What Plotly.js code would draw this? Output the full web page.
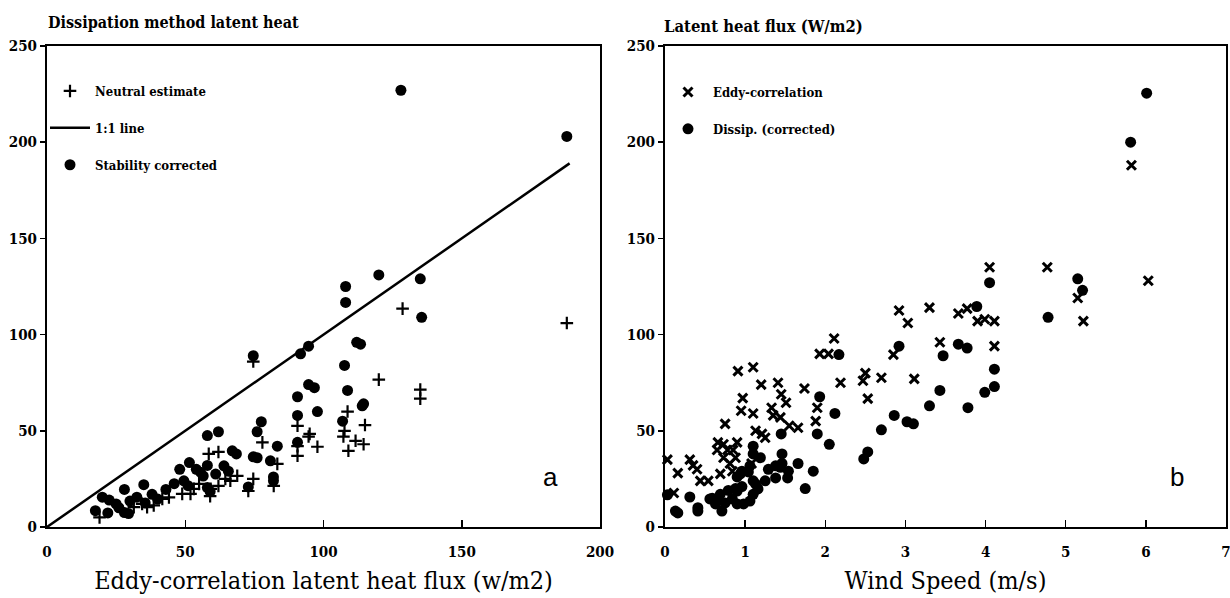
<!DOCTYPE html>
<html>
<head>
<meta charset="utf-8">
<script src="https://cdn.plot.ly/plotly-3.0.1.min.js"></script>
<style>
  html, body { margin: 0; padding: 0; background: #ffffff; }
  #chart { width: 1230px; height: 598px; }
</style>
</head>
<body>
<div id="chart"></div>
<script>
// ---------- Panel a: dissipation vs eddy-correlation latent heat ----------
const neutralX = [19, 31.4, 34.4, 36.2, 38.6, 41.7, 44.1, 48.9, 51.9, 53.1, 55, 59.2, 58.5, 62, 59, 62, 64.5, 66.3, 68.8, 72.8, 74.6, 74.6, 77.9, 82, 83.3, 90.6, 90.6, 90.6, 95, 94.6, 97.8, 107.6, 107.2, 108.7, 109, 111.6, 114.5, 115, 120, 128.6, 135, 135, 188];
const neutralY = [5, 10.3, 12, 10.3, 11.2, 14.6, 15.4, 17.2, 17.2, 19.8, 22.4, 19.8, 38, 39, 16, 21.4, 25, 24, 26.6, 18.7, 25, 86, 44, 21.4, 32.8, 37, 42, 52.6, 48.4, 47, 41.7, 50, 47, 60, 39.6, 44.8, 43, 53, 76.6, 113.5, 71.4, 66.7, 106];

const correctedX = [17.5, 22, 20, 22.5, 25, 26, 28, 29.5, 28, 30, 32.5, 35, 35.5, 38, 40, 43, 46, 48, 49.5, 51, 51.5, 54, 55.5, 58, 62, 58, 56.5, 58, 59, 61, 64, 65.6, 67, 68.5, 74.6, 76, 80.8, 72.8, 81.9, 81.9, 77.5, 76, 74.6, 83.3, 90.6, 90.6, 90.6, 91.7, 94.6, 94.6, 96.7, 97.8, 106.9, 107.6, 108.7, 108, 108, 112, 113.4, 114.5, 114, 120, 128, 135, 135.5, 188];
const correctedY = [8.5, 7.3, 15.5, 14, 12, 10, 7.5, 7, 19.5, 13.5, 15.5, 22, 12.5, 17, 14.5, 19.5, 22.5, 30, 24, 21.5, 33.5, 30, 28.5, 47.5, 49.5, 32, 26.5, 20.5, 18.5, 27.5, 31.8, 29, 39.6, 38, 36.5, 36, 34.4, 20.8, 26, 24, 54.7, 49.5, 89, 42, 44, 58, 67.7, 90, 94, 74, 72.4, 60, 55, 84, 71, 125, 116.7, 96, 95, 64, 63, 131, 227, 129, 109, 203];

const oneToOneX = [0, 189];
const oneToOneY = [0, 189];

// ---------- Panel b: latent heat flux vs wind speed ----------
const eddyX = [0.03, 0.11, 0.16, 0.31, 0.35, 0.40, 0.44, 0.54, 0.69, 0.65, 0.66, 0.73, 0.73, 0.78, 0.81, 0.84, 0.85, 0.88, 0.90, 0.75, 0.91, 0.95, 0.97, 1.08, 1.10, 1.10, 1.13, 1.21, 1.25, 1.20, 1.33, 1.35, 1.41, 1.44, 1.45, 1.51, 1.55, 1.66, 1.74, 1.88, 1.90, 1.93, 2.04, 2.11, 2.19, 2.47, 2.50, 2.53, 2.70, 2.85, 2.92, 3.03, 3.11, 3.30, 3.43, 3.66, 3.77, 3.90, 3.99, 4.05, 4.11, 4.11, 4.77, 5.15, 5.22, 5.82, 6.03];
const eddyY = [35, 17.7, 28, 35, 32, 30, 24, 24, 27.6, 40, 44, 43, 36, 40, 33, 29, 40, 36, 44, 53.6, 81, 60.4, 67, 33, 83, 59, 50, 48.4, 46.4, 74, 62, 58, 75, 57, 69, 64.6, 52.6, 51.6, 72, 55, 62, 90, 90, 98, 75, 76, 80, 66.7, 77.6, 89.6, 112.5, 106, 77, 114, 96, 111, 113.5, 107, 108, 135, 107, 94, 135, 119, 107, 188, 128];

const dissipX = [0.03, 0.13, 0.16, 0.31, 0.41, 0.41, 0.56, 0.59, 0.63, 0.65, 0.69, 0.71, 0.75, 0.79, 0.84, 0.88, 0.90, 0.90, 0.96, 0.98, 0.90, 0.94, 0.96, 1.04, 1.06, 1.06, 1.10, 1.13, 1.16, 1.10, 1.25, 1.10, 1.10, 1.19, 1.29, 1.38, 1.38, 1.44, 1.46, 1.46, 1.45, 1.53, 1.54, 1.66, 1.75, 1.85, 1.90, 1.93, 2.05, 2.12, 2.17, 2.48, 2.53, 2.70, 2.86, 2.92, 3.02, 3.10, 3.30, 3.43, 3.47, 3.66, 3.77, 3.78, 3.89, 3.99, 4.05, 4.11, 4.11, 4.78, 5.15, 5.21, 5.81, 6.01];
const dissipY = [16.7, 8.3, 7.3, 15.6, 10, 8.3, 14.6, 15, 12, 13.5, 17, 8.3, 12.5, 19, 14.6, 20, 12, 18.7, 21, 12, 26, 27.6, 29, 28.6, 31.8, 13.5, 17, 22.4, 19.8, 24, 24, 42, 38, 36, 30, 25.5, 31.8, 31, 38, 33, 48.4, 25.5, 29, 33, 20, 29, 48.4, 67.7, 43, 59, 89.6, 35.4, 39, 50.5, 58, 94, 54.7, 53.6, 63, 71, 89, 95, 93, 62, 114.6, 70, 127, 82, 73, 109, 129, 123, 200, 225.5];

// ---------- Tick labels ----------
const fluxTicks = [0, 50, 100, 150, 200, 250];
const fluxTickText = ['0', '50', '100', '150', '200', '250'];
const eddyTicks = [0, 50, 100, 150, 200];
const eddyTickText = ['0', '50', '100', '150', '200'];
const windTicks = [0, 1, 2, 3, 4, 5, 6, 7];
const windTickText = ['0', '1', '2', '3', '4', '5', '6', '7'];

const SERIF = '"DejaVu Serif Condensed", "DejaVu Serif", "Liberation Serif", serif';
const boldFont = { family: SERIF, size: 15, color: '#000', weight: 700 };

const plusMarker = { symbol: 'cross-thin', size: 9, color: '#000', line: { color: '#000', width: 2.2 } };
const dotMarker = { symbol: 'circle', size: 11, color: '#000', line: { width: 0 } };
const xMarker = { symbol: 'x-thin', size: 9, color: '#000', line: { color: '#000', width: 3 } };

const traces = [
  { type: 'scatter', mode: 'markers', x: neutralX, y: neutralY, name: 'Neutral estimate',
    marker: plusMarker, xaxis: 'x', yaxis: 'y', legend: 'legend', legendgroup: 'a1', cliponaxis: false },
  { type: 'scatter', mode: 'lines', x: oneToOneX, y: oneToOneY, name: '1:1 line',
    line: { color: '#000', width: 2.5 }, xaxis: 'x', yaxis: 'y', legend: 'legend', legendgroup: 'a2' },
  { type: 'scatter', mode: 'markers', x: correctedX, y: correctedY, name: 'Stability corrected',
    marker: dotMarker, xaxis: 'x', yaxis: 'y', legend: 'legend', legendgroup: 'a3', cliponaxis: false },
  { type: 'scatter', mode: 'markers', x: eddyX, y: eddyY, name: 'Eddy-correlation',
    marker: xMarker, xaxis: 'x2', yaxis: 'y2', legend: 'legend2', legendgroup: 'b1', cliponaxis: false },
  { type: 'scatter', mode: 'markers', x: dissipX, y: dissipY, name: 'Dissip. (corrected)',
    marker: dotMarker, xaxis: 'x2', yaxis: 'y2', legend: 'legend2', legendgroup: 'b2', cliponaxis: false }
];

const W = 1230, H = 598;
const yDom = [(H - 527) / H, (H - 46) / H];

function xAxis(domain, range, vals, text, title) {
  return {
    domain: domain, range: range, tickvals: vals, ticktext: text,
    ticks: 'inside', ticklen: 7, tickwidth: 1.5, tickcolor: '#000',
    ticklabelstandoff: 10, ticklabeloverflow: 'allow',
    showline: true, mirror: true, linecolor: '#000', linewidth: 2,
    showgrid: false, zeroline: false, fixedrange: true,
    tickfont: boldFont,
    title: { text: title, font: { family: SERIF, size: 25, color: '#000' }, standoff: 11 }
  };
}
function yAxis(anchor) {
  return {
    domain: yDom, range: [0, 250], tickvals: fluxTicks, ticktext: fluxTickText,
    ticks: 'outside', ticklen: 5, tickwidth: 1.5, tickcolor: '#000',
    showline: true, mirror: true, linecolor: '#000', linewidth: 2,
    showgrid: false, zeroline: false, fixedrange: true, anchor: anchor,
    tickfont: boldFont
  };
}

const legendFont = { family: SERIF, size: 13, color: '#000', weight: 700 };

const layout = {
  width: W, height: H,
  margin: { l: 0, r: 0, t: 0, b: 0 },
  paper_bgcolor: '#fff', plot_bgcolor: '#fff',
  xaxis: Object.assign(xAxis([47 / W, 600 / W], [0, 200], eddyTicks, eddyTickText,
          'Eddy-correlation latent heat flux (w/m2)'), { anchor: 'y' }),
  yaxis: yAxis('x'),
  xaxis2: Object.assign(xAxis([665 / W, 1226 / W], [0, 7], windTicks, windTickText,
          'Wind Speed (m/s)'), { anchor: 'y2' }),
  yaxis2: yAxis('x2'),
  showlegend: true,
  legend: {
    x: 45 / W, y: 1 - 76 / H, xanchor: 'left', yanchor: 'top',
    bgcolor: 'rgba(0,0,0,0)', borderwidth: 0, tracegroupgap: 17, itemwidth: 40,
    font: legendFont
  },
  legend2: {
    x: 663 / W, y: 1 - 77 / H, xanchor: 'left', yanchor: 'top',
    bgcolor: 'rgba(0,0,0,0)', borderwidth: 0, tracegroupgap: 17, itemwidth: 40,
    font: legendFont
  },
  annotations: [
    { xref: 'paper', yref: 'paper', x: 46 / W, y: 1 - 23 / H, xanchor: 'left', yanchor: 'middle',
      text: 'Dissipation method latent heat', showarrow: false,
      font: { family: SERIF, size: 16, color: '#000', weight: 700 } },
    { xref: 'paper', yref: 'paper', x: 662 / W, y: 1 - 27 / H, xanchor: 'left', yanchor: 'middle',
      text: 'Latent heat flux (W/m2)', showarrow: false,
      font: { family: SERIF, size: 16.5, color: '#000', weight: 700 } },
    { xref: 'x', yref: 'y', x: 182, y: 26, text: 'a', showarrow: false,
      font: { family: '"Liberation Sans", Arial, sans-serif', size: 26, color: '#000' } },
    { xref: 'x2', yref: 'y2', x: 6.39, y: 26, text: 'b', showarrow: false,
      font: { family: '"Liberation Sans", Arial, sans-serif', size: 26, color: '#000' } }
  ]
};

Plotly.newPlot('chart', traces, layout, { displayModeBar: false, staticPlot: true });
</script>
</body>
</html>
